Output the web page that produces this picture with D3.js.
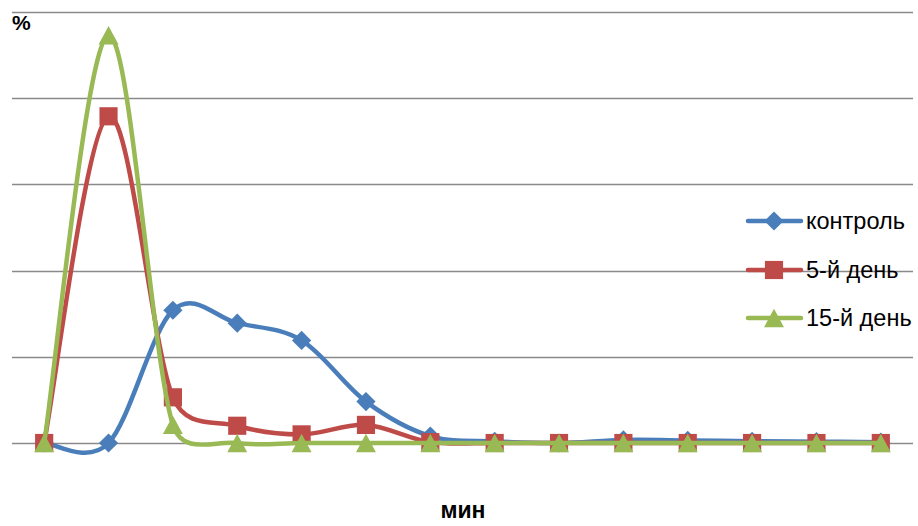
<!DOCTYPE html>
<html>
<head>
<meta charset="utf-8">
<script src="https://cdn.jsdelivr.net/npm/d3@7"></script>
<style>
  html, body { margin: 0; padding: 0; background: #fff; }
  svg { display: block; }
</style>
</head>
<body>
<svg id="chart" width="918" height="526"></svg>
<script>
// Time points (minutes), one category per measurement
const categories = ["1", "2", "3", "4", "5", "6", "7", "8", "9", "10", "11", "12", "13", "14"];

const seriesNames = ["контроль", "5-й день", "15-й день"];
const controlValues = [0, 0, 15.4, 13.9, 11.9, 4.8, 0.8, 0.2, 0, 0.35, 0.3, 0.2, 0.15, 0.1];
const day5Values    = [0, 37.9, 5.3, 2.0, 1.0, 2.1, 0.1, 0, 0, 0, 0, 0, 0, 0];
const day15Values   = [0, 47.3, 2.1, 0, 0, 0, 0, 0, 0, 0, 0, 0, 0, 0];

const yTicks = [0, 10, 20, 30, 40, 50];

const colors = ["#4A7EBB", "#BE4B48", "#98B954"];

// Triangle marker centred on its bounding box (width ~ height)
const boxTriangle = {
  draw(ctx, size) {
    const h = Math.sqrt(size * 2) / 2; // half of the box side
    ctx.moveTo(0, -h);
    ctx.lineTo(h * 1.08, h);
    ctx.lineTo(-h * 1.08, h);
    ctx.closePath();
  }
};

// Diamond = square turned 45 degrees
const markerShapes = [d3.symbolSquare, d3.symbolSquare, boxTriangle];
const markerSizes = [185, 330, 170];
const markerRotate = [45, 0, 0];

const svg = d3.select("#chart");
const margin = { left: 12, right: 5, top: 12, bottom: 83 };
const W = 918, H = 526;
const font = "Liberation Sans, Arial, sans-serif";

const x = d3.scaleBand()
  .domain(categories)
  .range([margin.left, W - margin.right]);

const y = d3.scaleLinear()
  .domain([0, 50])
  .range([H - margin.bottom, margin.top]);

// Horizontal gridlines
svg.append("g")
  .selectAll("line")
  .data(yTicks)
  .join("line")
  .attr("x1", margin.left)
  .attr("x2", W - margin.right)
  .attr("y1", d => Math.round(y(d)) + 0.5)
  .attr("y2", d => Math.round(y(d)) + 0.5)
  .attr("stroke", "#8a8a8a")
  .attr("stroke-width", 1.3);

const data = [controlValues, day5Values, day15Values];
const cx = (d, i) => x(categories[i]) + x.bandwidth() / 2;

// Smoothed line: Catmull-Rom tangents, with each Bezier handle capped
// at half the length of the segment it points into (keeps sharp drops
// from overshooting far past the following point).
function smoothPath(pts) {
  const p = d3.path();
  const n = pts.length;
  const tan = pts.map((pt, i) => {
    const a = pts[Math.max(0, i - 1)], b = pts[Math.min(n - 1, i + 1)];
    return [(b[0] - a[0]) / 6, (b[1] - a[1]) / 6];
  });
  const cap = (t, segLen) => {
    const len = Math.hypot(t[0], t[1]);
    const lim = segLen * 0.5;
    const k = len > lim && len > 0 ? lim / len : 1;
    return [t[0] * k, t[1] * k];
  };
  p.moveTo(pts[0][0], pts[0][1]);
  for (let i = 0; i < n - 1; i++) {
    const a = pts[i], b = pts[i + 1];
    const seg = Math.hypot(b[0] - a[0], b[1] - a[1]);
    const ta = cap(tan[i], seg), tb = cap(tan[i + 1], seg);
    p.bezierCurveTo(a[0] + ta[0], a[1] + ta[1], b[0] - tb[0], b[1] - tb[1], b[0], b[1]);
  }
  return p.toString();
}

data.forEach((vals, s) => {
  const g = svg.append("g");
  const pts = vals.map((d, i) => [cx(d, i), y(d)]);
  g.append("path")
    .attr("d", smoothPath(pts))
    .attr("fill", "none")
    .attr("stroke", colors[s])
    .attr("stroke-width", 4.5)
    .attr("stroke-linejoin", "round")
    .attr("stroke-linecap", "round");
  g.selectAll("path.m")
    .data(vals)
    .join("path")
    .attr("class", "m")
    .attr("d", d3.symbol().type(markerShapes[s]).size(markerSizes[s]))
    .attr("transform", (d, i) => `translate(${cx(d, i)},${y(d)}) rotate(${markerRotate[s]})`)
    .attr("fill", colors[s]);
});

// Axis titles
svg.append("text")
  .attr("x", 12).attr("y", 30)
  .attr("font-family", font)
  .attr("font-weight", "bold")
  .attr("font-size", 21)
  .text("%");

svg.append("text")
  .attr("x", 463).attr("y", 518)
  .attr("text-anchor", "middle")
  .attr("font-family", font)
  .attr("font-weight", "bold")
  .attr("font-size", 23)
  .text("мин");

// Legend
const legendY = [221, 270, 318];
seriesNames.forEach((name, s) => {
  const g = svg.append("g").attr("transform", `translate(0,${legendY[s]})`);
  g.append("line")
    .attr("x1", 748).attr("x2", 801)
    .attr("y1", 0).attr("y2", 0)
    .attr("stroke", colors[s])
    .attr("stroke-width", 4.5)
    .attr("stroke-linecap", "round");
  g.append("path")
    .attr("d", d3.symbol().type(markerShapes[s]).size(markerSizes[s]))
    .attr("transform", `translate(774,0) rotate(${markerRotate[s]})`)
    .attr("fill", colors[s]);
  g.append("text")
    .attr("x", 806).attr("y", 8)
    .attr("font-family", font)
    .attr("font-size", 23.5)
    .attr("fill", "#000")
    .text(name);
});
</script>
</body>
</html>
